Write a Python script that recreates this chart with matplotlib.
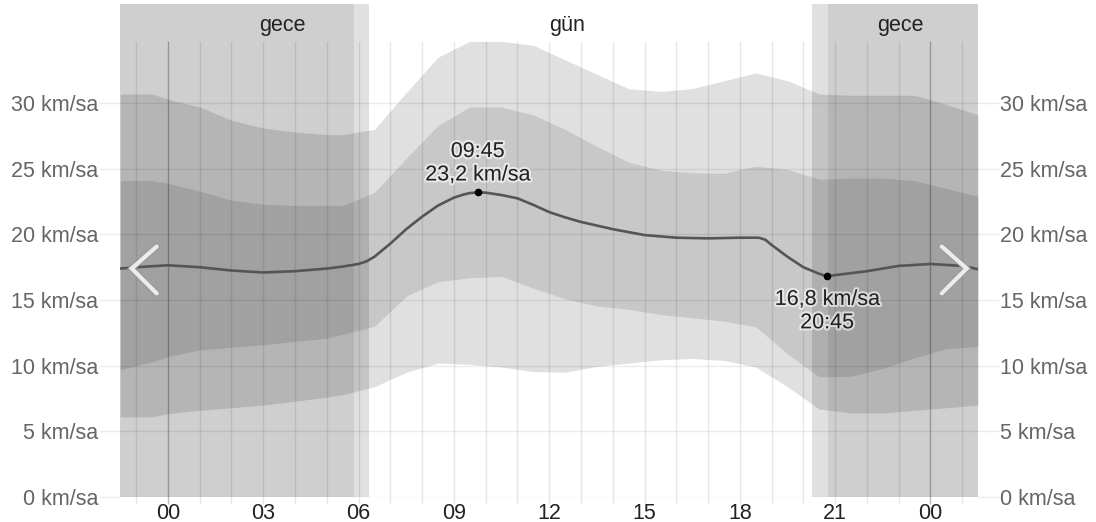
import matplotlib.pyplot as plt
import matplotlib.patheffects as pe

plt.rcParams['font.family'] = ['Liberation Sans', 'DejaVu Sans']

# saat (00 = gece yarısı), bantlar için
band_hours = [-1.5, -0.5, 0, 1, 2, 3, 4, 5, 5.5, 6.5, 7.5, 8.5, 9.5, 10.5, 11.5,
              12.5, 13.5, 14.5, 15.5, 16.5, 17.5, 18.5, 19.5, 20.5, 21.5, 22.5,
              23.5, 24.5, 25.5]
p90 = [30.7, 30.7, 30.3, 29.7, 28.7, 28.1, 27.8, 27.6, 27.6, 28.0, 30.8, 33.5,
       34.7, 34.7, 34.4, 33.3, 32.2, 31.1, 30.9, 31.1, 31.7, 32.3, 31.7, 30.7,
       30.6, 30.6, 30.6, 29.9, 29.1]
p75 = [24.1, 24.1, 23.9, 23.3, 22.6, 22.3, 22.2, 22.2, 22.2, 23.2, 25.8, 28.3,
       29.7, 29.7, 29.1, 28.0, 26.7, 25.5, 24.9, 24.7, 24.65, 25.2, 24.95, 24.2,
       24.3, 24.3, 24.1, 23.5, 22.9]
p25 = [9.7, 10.3, 10.7, 11.2, 11.4, 11.6, 11.85, 12.1, 12.4, 13.0, 15.3, 16.4,
       16.7, 16.8, 15.9, 15.1, 14.55, 14.3, 13.9, 13.65, 13.4, 12.97, 10.9, 9.15,
       9.2, 9.8, 10.6, 11.3, 11.45]
p10 = [6.1, 6.1, 6.35, 6.6, 6.8, 7.0, 7.3, 7.6, 7.8, 8.4, 9.5, 10.2, 10.1, 9.9,
       9.55, 9.5, 9.95, 10.2, 10.45, 10.55, 10.4, 9.9, 8.4, 6.7, 6.4, 6.4, 6.6,
       6.8, 7.0]

# ortalama rüzgar hızı
mean_hours = [-1.5, -1, 0, 1, 2, 3, 4, 5, 5.5, 6, 6.25, 6.5, 7, 7.5, 8, 8.5, 9,
              9.25, 9.5, 9.75, 10, 10.5, 11, 11.5, 12, 12.5, 13, 14, 15, 16, 17,
              18, 18.6, 18.8, 19, 19.5, 20, 20.5, 20.75, 21, 22, 23, 24, 25, 25.5]
mean_speed = [17.4, 17.5, 17.65, 17.5, 17.25, 17.1, 17.2, 17.4, 17.55, 17.75,
              17.95, 18.3, 19.3, 20.4, 21.35, 22.2, 22.8, 23.0, 23.15, 23.2,
              23.18, 23.0, 22.75, 22.25, 21.7, 21.3, 20.95, 20.4, 19.95, 19.75,
              19.7, 19.75, 19.75, 19.6, 19.2, 18.3, 17.5, 17.0, 16.8, 16.9,
              17.2, 17.6, 17.75, 17.6, 17.35]

peak = (9.75, 23.2, '09:45\n23,2 km/sa')
low = (20.75, 16.8, '16,8 km/sa\n20:45')

# gece / alacakaranlık aralıkları
nights = [(-1.5, 5.85), (20.77, 25.5)]
twilights = [(5.85, 6.33), (20.27, 20.77)]
period_labels = [(3.6, 'gece'), (12.56, 'gün'), (23.05, 'gece')]

yticks = [0, 5, 10, 15, 20, 25, 30]
xticks = [0, 3, 6, 9, 12, 15, 18, 21, 24]
xticklabels = ['00', '03', '06', '09', '12', '15', '18', '21', '00']

fig = plt.figure(figsize=(10.96, 5.22), dpi=100)
ax = fig.add_axes([120.3 / 1096, 25 / 522, 857.8 / 1096, 493 / 522])
ax.set_xlim(-1.5, 25.5)
ax.set_ylim(0, 37.55)
for s in ax.spines.values():
    s.set_visible(False)

for a, b in nights:
    ax.axvspan(a, b, color='black', alpha=0.19, lw=0, zorder=1)
for a, b in twilights:
    ax.axvspan(a, b, color='black', alpha=0.12, lw=0, zorder=1)

ax.fill_between(band_hours, p10, p90, color='black', alpha=0.12, lw=0, zorder=2)
ax.fill_between(band_hours, p25, p75, color='black', alpha=0.107, lw=0, zorder=3)

# ızgara
top = 34.7
for h in range(-1, 26):
    a = 0.27 if h % 24 == 0 else 0.09
    ax.vlines(h, -0.5, top, color='black', alpha=a, lw=1, zorder=4, clip_on=False)
for v in yticks:
    ax.axhline(v, color='black', alpha=0.08, lw=1, zorder=4)

ax.plot(mean_hours, mean_speed, color='#555555', lw=1.9, zorder=5,
        solid_joinstyle='round')
for x, y, txt in [peak, low]:
    ax.plot(x, y, 'o', color='black', ms=4.5, zorder=6)
halo = [pe.withStroke(linewidth=3, foreground='white', alpha=0.6)]
ax.annotate(peak[2], (peak[0], peak[1]), xytext=(0, 5), textcoords='offset points',
            ha='center', va='bottom', fontsize=15.5, color='#222222',
            linespacing=1.15, path_effects=halo, zorder=7)
ax.annotate(low[2], (low[0], low[1]), xytext=(0, -9), textcoords='offset points',
            ha='center', va='top', fontsize=15.5, color='#222222',
            linespacing=1.15, path_effects=halo, zorder=7)

for x, txt in period_labels:
    ax.text(x, 35.9, txt, ha='center', va='center', fontsize=15.5, color='#222222')

# kaydırma okları
chev = [pe.Stroke(linewidth=4.5, foreground='#9a9a9a'), pe.Normal()]
ax.plot([0.0424, 0.0133, 0.0424], [0.508, 0.4635, 0.413], transform=ax.transAxes,
        color='#ececec', lw=3, solid_capstyle='round', solid_joinstyle='miter',
        path_effects=chev, zorder=8)
ax.plot([0.9576, 0.9867, 0.9576], [0.508, 0.4635, 0.413], transform=ax.transAxes,
        color='#ececec', lw=3, solid_capstyle='round', solid_joinstyle='miter',
        path_effects=chev, zorder=8)

ax.set_yticks(yticks)
ax.set_yticklabels([f'{v} km/sa' for v in yticks])
ax.tick_params(axis='y', left=True, right=True, labelleft=True, labelright=True,
               length=15, width=1, color=(0, 0, 0, 0.08), pad=1,
               labelsize=15.5, labelcolor='#666666')
ax.set_xticks(xticks)
ax.set_xticklabels(xticklabels)
ax.tick_params(axis='x', length=0, pad=4, labelsize=15.5, labelcolor='#222222')

fig.savefig('out.png', dpi=100, facecolor='white')
